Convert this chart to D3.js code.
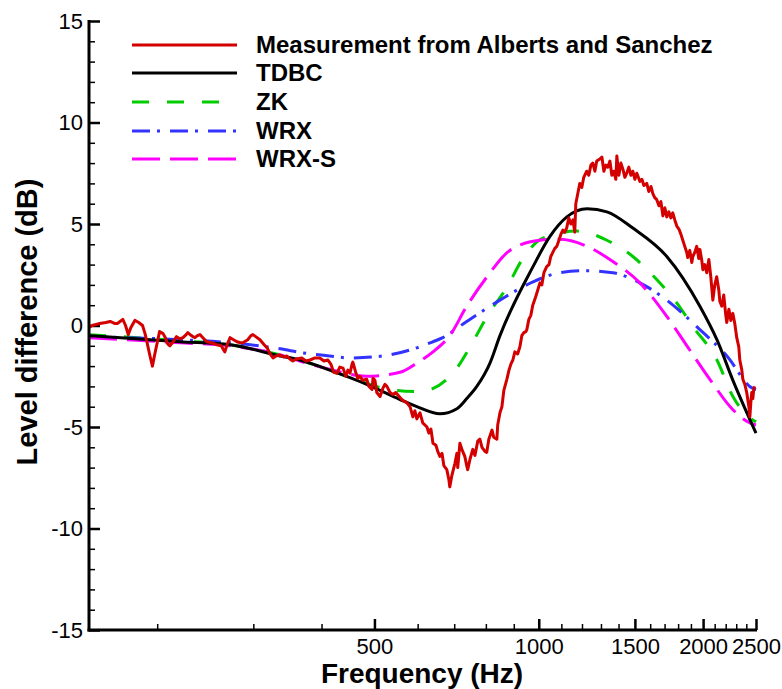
<!DOCTYPE html>
<html><head><meta charset="utf-8">
<script src="https://cdn.jsdelivr.net/npm/d3@7"></script>
<style>body{margin:0;background:#fff}svg text{font-family:"Liberation Sans",Arial,sans-serif}</style>
</head><body>
<svg id="c" width="782" height="689"></svg>
<script>
const majorX = [500, 1000, 1500, 2000, 2500];
const minorX = [200, 300, 400, 600, 700, 800, 900, 1100, 1200, 1300, 1400, 1600, 1700, 1800, 1900, 2100, 2200, 2300, 2400];
const majorY = [-15, -10, -5, 0, 5, 10, 15];
const minorY = [-14,-13,-12,-11,-9,-8,-7,-6,-4,-3,-2,-1,1,2,3,4,6,7,8,9,11,12,13,14];

const seriesNames = ["Measurement from Alberts and Sanchez", "TDBC", "ZK", "WRX", "WRX-S"];

const measurement = [[150,-0.1],[152,0.0],[157,0.1],[161,0.15],[164,0.2],[167,0.1],[169,0.1],[171,0.2],[173,0.3],[175,0.0],[177,-0.45],[179,-0.1],[182,0.25],[185,0.15],[188,0.0],[190,-0.4],[191.5,-0.8],[194,-1.5],[196,-2.0],[198,-1.4],[200,-0.85],[202,-0.3],[205,-0.4],[207,-0.6],[209,-0.9],[211,-1.0],[214,-0.8],[217,-0.55],[220,-0.65],[223,-0.6],[226,-0.45],[227.5,-0.35],[231,-0.5],[234.5,-0.6],[237,-0.5],[239.5,-0.45],[242.5,-0.6],[246.5,-0.8],[252,-0.85],[257,-0.95],[262,-1.0],[266,-1.3],[269,-0.9],[272,-0.6],[276,-0.7],[280,-0.8],[284,-0.85],[287,-0.85],[291,-0.75],[293,-0.7],[297,-0.5],[299.5,-0.45],[303,-0.55],[308.5,-0.7],[314,-0.95],[318,-1.1],[322,-1.4],[326,-1.6],[330,-1.5],[336,-1.45],[341,-1.55],[345.5,-1.5],[350,-1.65],[354.5,-1.75],[360,-1.65],[368,-1.6],[374.5,-1.75],[381,-1.7],[389,-1.6],[397,-1.6],[404,-1.75],[411,-1.7],[416,-1.9],[421,-2.3],[427,-2.35],[432,-2.05],[438,-2.1],[443,-2.5],[447,-2.2],[451,-2.35],[455,-1.9],[456.5,-1.8],[462,-2.3],[466,-2.6],[470,-2.5],[476,-2.7],[484,-2.65],[488.5,-3.0],[495,-3.15],[497,-2.6],[501,-2.7],[505,-3.3],[512,-3.5],[518,-3.1],[522.5,-2.9],[527,-3.0],[534,-3.3],[540.5,-3.4],[547,-3.3],[557,-3.55],[564,-3.7],[573,-3.8],[581,-4.0],[588,-4.5],[593,-4.2],[598,-4.6],[606,-4.3],[613,-4.8],[624,-5.0],[629,-5.3],[634.5,-5.1],[640,-5.8],[648,-5.9],[653,-6.2],[659,-6.45],[665,-6.3],[670,-6.9],[678.5,-7.1],[684.5,-7.6],[687,-7.95],[693,-7.4],[699,-7.0],[702,-6.8],[708,-6.3],[710.5,-7.0],[717,-5.8],[723,-6.1],[732,-6.45],[738,-6.9],[741,-7.1],[748,-6.6],[757,-6.1],[764,-6.4],[773,-5.7],[780,-5.6],[787,-6.0],[797,-6.2],[803,-6.25],[810,-5.6],[821,-5.15],[827,-5.5],[838,-5.6],[841,-4.9],[849,-4.3],[856,-4.0],[863,-3.2],[874,-2.65],[882,-2.2],[889,-1.9],[896.5,-1.7],[904,-1.3],[915,-1.4],[923.5,-1.05],[931,-0.5],[939,-0.35],[947,-0.3],[951,-0.2],[959,0.3],[967,0.5],[975,1.0],[984,1.3],[992,1.6],[1005,2.1],[1013,2.0],[1022,2.6],[1034,2.9],[1044,3.0],[1052,3.4],[1061,3.6],[1070,3.8],[1079,3.9],[1089,4.2],[1098,4.5],[1107,4.7],[1116,4.6],[1125,4.8],[1135,5.3],[1145,5.0],[1155,5.2],[1164,4.6],[1169,6.0],[1179,6.5],[1189,7.0],[1199,6.8],[1209,7.3],[1224,7.6],[1235,7.4],[1246,7.9],[1256,8.0],[1267,7.6],[1277,8.1],[1294,8.2],[1305,8.3],[1316,7.6],[1327,7.9],[1338,7.8],[1350,8.1],[1361,7.4],[1372,7.6],[1384,7.2],[1390,8.35],[1402,7.4],[1414,8.0],[1426,7.7],[1438,7.3],[1449,7.5],[1462,7.8],[1475,7.4],[1487,7.6],[1500,7.2],[1512,7.5],[1532,7.1],[1545,7.2],[1558,6.9],[1577,7.0],[1591,6.6],[1605,6.85],[1618,6.5],[1631,6.3],[1645,6.2],[1660,5.9],[1674,6.1],[1688,5.4],[1702,5.8],[1716,5.35],[1731,5.6],[1746,5.3],[1760,5.55],[1775,5.2],[1790,4.9],[1806,4.75],[1821,4.5],[1836,4.2],[1851,3.9],[1867,3.6],[1874,3.35],[1891,3.7],[1907,3.1],[1915,3.4],[1931,3.6],[1947,3.9],[1964,3.3],[1973,3.75],[1989,3.2],[1998,2.75],[2014,3.0],[2031,2.6],[2049,3.25],[2066,2.4],[2084,1.25],[2101,2.0],[2118,2.4],[2137,1.75],[2146,1.2],[2164,0.95],[2182,1.5],[2201,0.5],[2210,0.15],[2230,0.8],[2248,0.25],[2267,0.6],[2286,0.1],[2305,-0.6],[2325,-1.05],[2335,-1.7],[2355,-2.2],[2365,-2.65],[2385,-2.9],[2404,-3.3],[2426,-4.0],[2436,-4.5],[2446,-3.8],[2456,-3.3],[2467,-3.6],[2477,-3.1],[2487,-3.0]];

const tdbc = [[150,-0.5],[220,-0.8],[272,-0.95],[336,-1.5],[365,-1.7],[414,-2.2],[484,-2.9],[557,-3.65],[598,-4.0],[659,-4.35],[708,-4.1],[738,-3.6],[770,-3.0],[814,-1.85],[849,-0.5],[976,2.9],[1049,4.4],[1126,5.35],[1226,5.75],[1333,5.6],[1487,4.8],[1716,3.4],[1973,0.95],[2120,-0.7],[2268,-2.7],[2500,-5.3]];

const zk = [[150,-0.45],[220,-0.75],[272,-0.95],[336,-1.45],[365,-1.7],[414,-2.2],[484,-2.85],[530,-3.15],[606,-3.25],[696,-2.35],[754,-0.9],[804,0.45],[875,1.9],[935,3.3],[1018,4.3],[1175,4.65],[1333,4.2],[1487,3.4],[1646,2.25],[1791,1.1],[1916,-0.05],[2120,-1.7],[2268,-3.5],[2436,-4.55],[2500,-4.75]];

const wrx = [[150,-0.55],[220,-0.7],[272,-0.85],[336,-1.15],[370,-1.35],[414,-1.5],[451,-1.6],[518,-1.5],[598,-1.1],[640,-0.8],[667,-0.6],[738,0.2],[849,1.25],[976,2.15],[1093,2.6],[1226,2.7],[1367,2.6],[1532,2.1],[1716,1.25],[1973,-0.2],[2211,-1.5],[2466,-3.1],[2500,-3.15]];

const wrxs = [[150,-0.6],[220,-0.85],[272,-1.0],[336,-1.45],[365,-1.75],[420,-2.2],[484,-2.5],[557,-2.3],[598,-1.85],[640,-1.3],[687,-0.5],[738,0.95],[804,2.4],[885,3.7],[1005,4.2],[1093,4.25],[1226,3.9],[1367,3.15],[1532,2.1],[1716,0.45],[1868,-1.0],[2058,-2.65],[2268,-4.15],[2436,-4.8],[2500,-4.9]];

const svg = d3.select("#c");
const x = d3.scaleLog().domain([150, 2500]).range([89, 756]);
const y = d3.scaleLinear().domain([-15, 15]).range([630, 21]);

// axes
const gx = svg.append("g").attr("transform", "translate(0,630)");
gx.call(d3.axisBottom(x).tickValues(minorX).tickSize(-6).tickFormat(""));
gx.selectAll(".tick line").attr("stroke-width", 1.5);
gx.select(".domain").remove();
const gx2 = svg.append("g").attr("transform", "translate(0,630)");
gx2.call(d3.axisBottom(x).tickValues(majorX).tickSize(-11).tickPadding(8).tickFormat(d => String(d)));
gx2.selectAll(".tick line").attr("stroke-width", 2.5);
gx2.select(".domain").remove();
gx2.selectAll("text").attr("font-size", 22).attr("fill", "#000");

const gy = svg.append("g").attr("transform", "translate(89,0)");
gy.call(d3.axisLeft(y).tickValues(minorY).tickSize(-6).tickFormat(""));
gy.selectAll(".tick line").attr("stroke-width", 1.5);
gy.select(".domain").remove();
const gy2 = svg.append("g").attr("transform", "translate(89,0)");
gy2.call(d3.axisLeft(y).tickValues(majorY).tickSize(-11).tickPadding(6).tickFormat(d => String(d)));
gy2.selectAll(".tick line").attr("stroke-width", 2.5);
gy2.select(".domain").remove();
gy2.selectAll("text").attr("font-size", 22).attr("fill", "#000");

// curves
const line = d3.line().x(d => x(d[0])).y(d => y(d[1]));
const smooth = d3.line().x(d => x(d[0])).y(d => y(d[1])).curve(d3.curveMonotoneX);
const styles = [
  {data: measurement, color: "#d40000", dash: null, gen: line},
  {data: tdbc, color: "#000000", dash: null, gen: smooth},
  {data: zk, color: "#00cc00", dash: "17,18", gen: smooth},
  {data: wrx, color: "#3333ff", dash: "18,7,3,10", gen: smooth},
  {data: wrxs, color: "#ff00ff", dash: "28,10", gen: smooth}
];
[2, 3, 4, 1, 0].forEach(i => {
  const s = styles[i];
  svg.append("path").attr("d", s.gen(s.data)).attr("fill", "none")
    .attr("stroke", s.color).attr("stroke-width", 3)
    .attr("stroke-dasharray", s.dash).attr("stroke-linejoin", "round");
});

// axis lines
svg.append("line").attr("x1", 89).attr("x2", 89).attr("y1", 20).attr("y2", 631.5).attr("stroke", "#000").attr("stroke-width", 3);
svg.append("line").attr("x1", 87.5).attr("x2", 757).attr("y1", 630).attr("y2", 630).attr("stroke", "#000").attr("stroke-width", 3);

// legend
const rows = [45, 73, 102, 131, 159];
seriesNames.forEach((name, i) => {
  const s = styles[i];
  svg.append("line").attr("x1", 132).attr("x2", 237).attr("y1", rows[i]).attr("y2", rows[i])
    .attr("stroke", s.color).attr("stroke-width", 3).attr("stroke-dasharray", s.dash);
  svg.append("text").attr("x", 256).attr("y", rows[i] + 8).attr("font-size", 24)
    .attr("font-weight", "bold").text(name);
});

// axis titles
svg.append("text").attr("x", 422).attr("y", 683).attr("text-anchor", "middle")
  .attr("font-size", 28).attr("font-weight", "bold").text("Frequency (Hz)");
svg.append("text").attr("transform", "translate(37,322) rotate(-90)").attr("text-anchor", "middle")
  .attr("font-size", 29).attr("font-weight", "bold").text("Level difference (dB)");
</script>
</body></html>
